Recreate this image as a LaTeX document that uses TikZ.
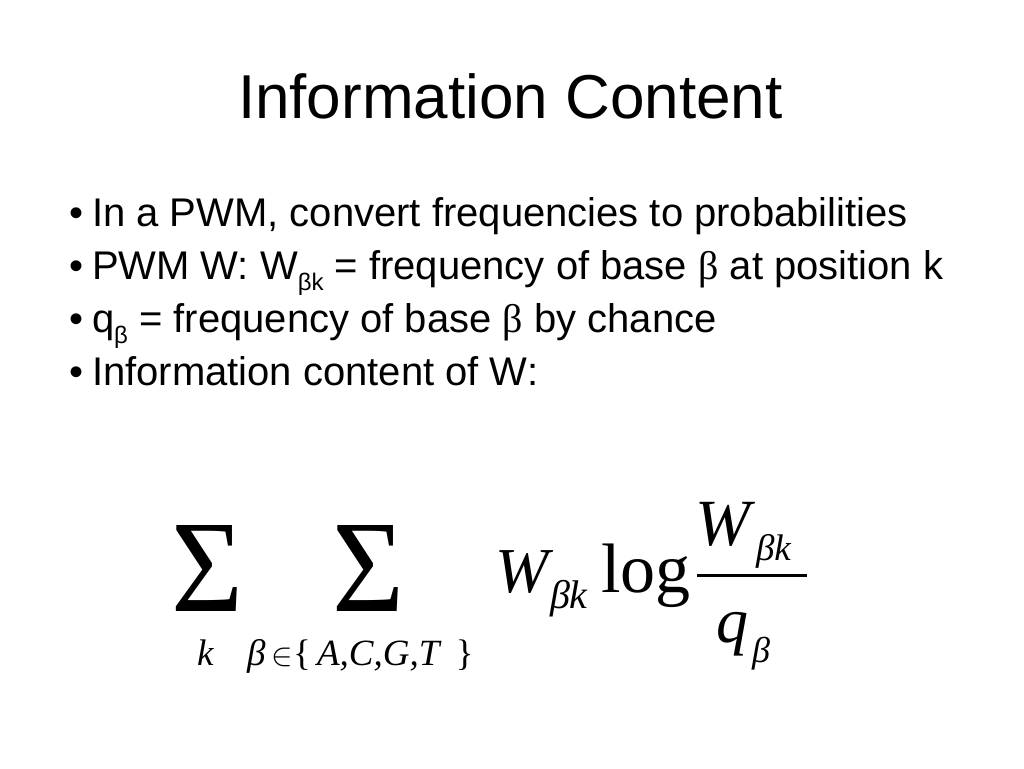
\documentclass[tikz,border=0pt]{standalone}
\usepackage{fontspec}
\setmainfont{Liberation Sans}
\newfontfamily\serif{Liberation Serif}
\newcommand{\bsub}[1]{\raisebox{-0.28em}{\fontsize{24}{24}\selectfont #1}}
\begin{document}
\begin{tikzpicture}[x=1pt,y=-1pt,
  txt/.style={anchor=base west, inner sep=0pt, outer sep=0pt},
  bul/.style={txt, font=\fontsize{40}{40}\selectfont},
  mth/.style={txt, font=\fontsize{64}{64}\selectfont\serif\itshape},
  sub/.style={txt, font=\fontsize{40}{40}\selectfont\serif\itshape},
  lim/.style={txt, font=\fontsize{37}{37}\selectfont\serif\itshape},
  sig/.style={anchor=center, inner sep=0pt}]
\useasboundingbox (0,0) rectangle (1024,768);
\fill[white] (0,0) rectangle (1024,768);
% title
\node[txt, font=\fontsize{62}{62}\selectfont] (title) at (238,118) {Information Content};
% bullets
\node[bul] (d1) at (69,226) {•};
\node[bul] (b1) at (92,226) {In a PWM, convert frequencies to probabilities};
\node[bul] (d2) at (69,279) {•};
\node[bul] (b2) at (92,279) {PWM W: W\bsub{βk} = frequency of base {\serif β} at position k};
\node[bul] (d3) at (69,332) {•};
\node[bul] (b3) at (92,332) {q\bsub{β} = frequency of base {\serif β} by chance};
\node[bul] (d4) at (69,385) {•};
\node[bul] (b4) at (92,385) {Information content of W:};
% formula
\node[sig] (s1) at (207,568) {\resizebox{72pt}{86pt}{\serif Σ}};
\node[sig] (s2) at (368,568) {\resizebox{72pt}{86pt}{\serif Σ}};
\node[lim] (k1) at (197,665) {k};
\node[lim] (set) at (247,665) {β\,{\upshape\scalebox{1.3}{$\in$}\{}\,A,C,G,T\;\,{\upshape\}}};
\node[mth] (w1) at (495,592) {W};
\node[sub] (w1s) at (550,608) {βk};
\node[txt, font=\fontsize{70}{70}\selectfont\serif] (log) at (601,592) {log};
\node[mth, font=\fontsize{66}{66}\selectfont\serif\itshape] (w2) at (695,545) {W};
\node[sub, font=\fontsize{37}{37}\selectfont\serif\itshape] (w2s) at (756,560) {βk};
\draw[line width=3.5pt] (697,575.5) -- (807,575.5);
\node[mth] (q) at (716,642) {q};
\node[sub, font=\fontsize{36}{36}\selectfont\serif\itshape] (qs) at (752,662) {β};
\end{tikzpicture}
\end{document}
